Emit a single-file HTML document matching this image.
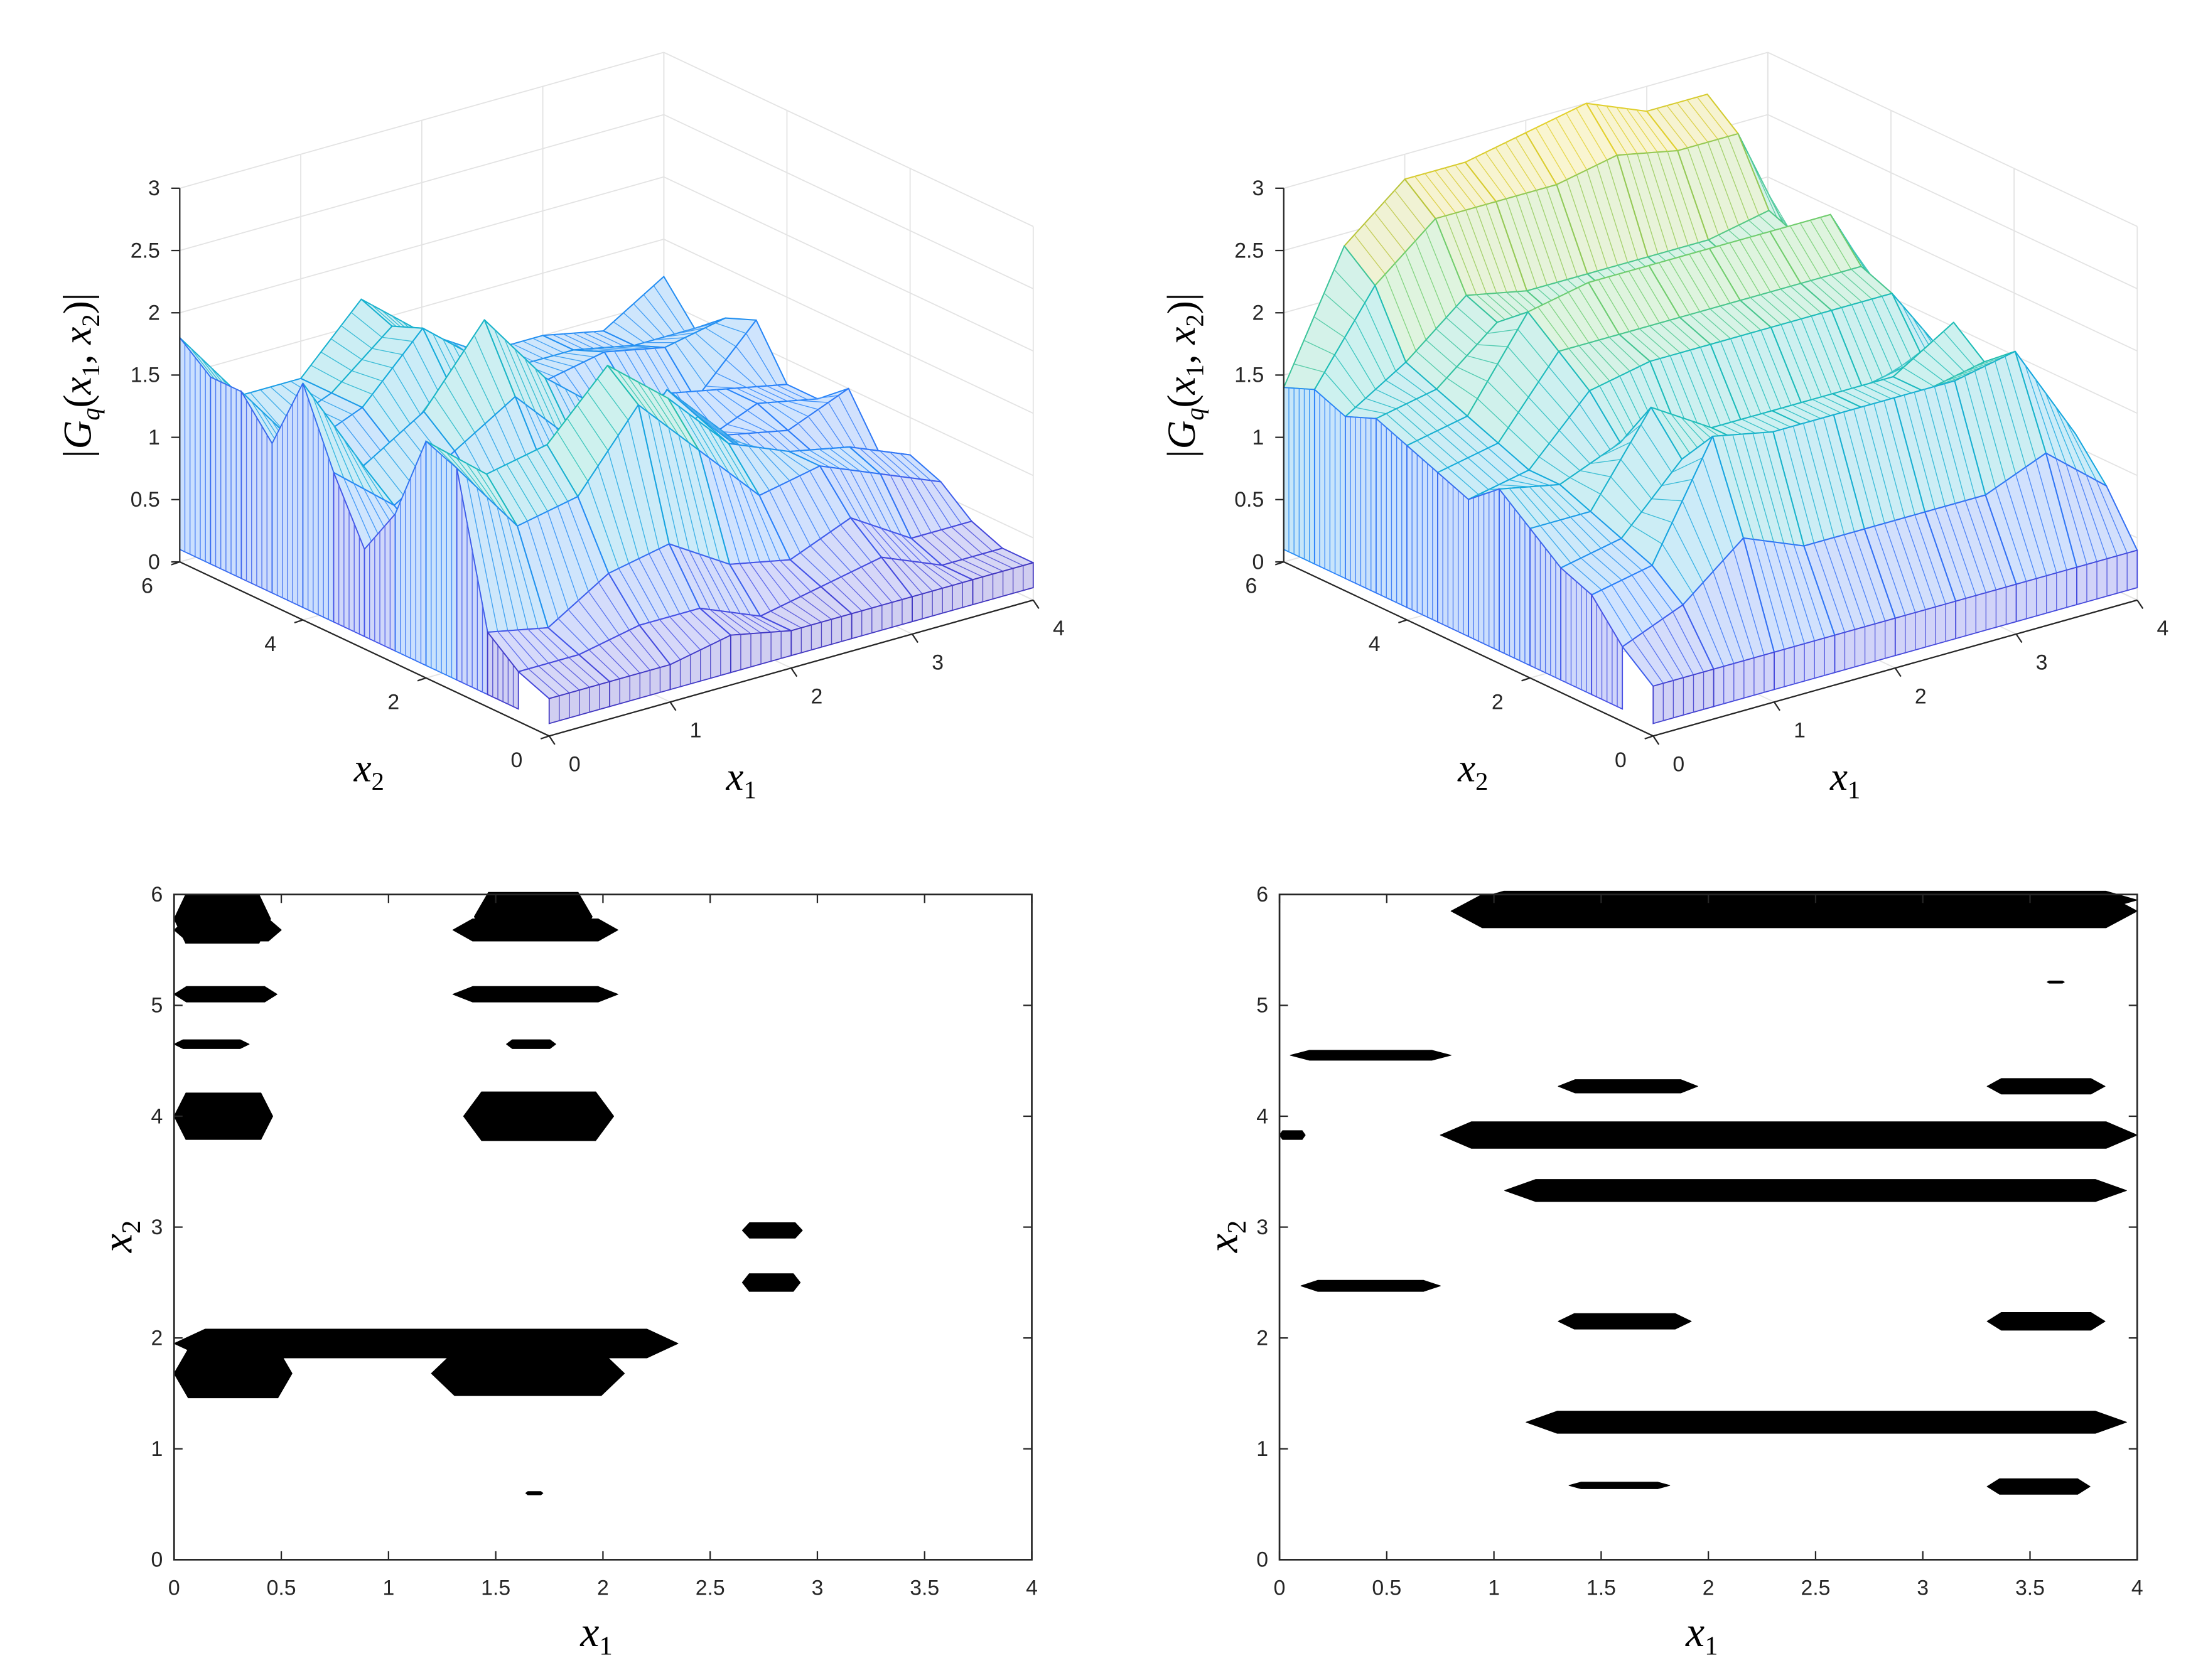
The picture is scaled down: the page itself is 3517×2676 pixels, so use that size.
<!DOCTYPE html>
<html><head><meta charset="utf-8">
<style>
html,body{margin:0;padding:0;background:#fff;}
svg{display:block;}
text{font-family:"Liberation Sans",sans-serif;fill:#262626;}
.m{font-family:"Liberation Serif",serif;font-style:italic;fill:#000;}
</style></head>
<body>
<svg id="fig" width="3517" height="2676" viewBox="0 0 1560 1187" preserveAspectRatio="none" xmlns="http://www.w3.org/2000/svg">
<rect x="0" y="0" width="1560" height="1187" fill="#fff"/>
<g id="p1"></g>
<g id="p2"></g>
<g id="p3"></g>
<g id="p4"></g>
</svg>
<script>
// ---- data ----
const x1Grid = [0,0.5,1,1.5,2,2.5,3,3.5,4];
const x2Grid = [0,0.5,1,1.5,2,2.5,3,3.5,4,4.5,5,5.5,6];
const zTicks = [0,0.5,1,1.5,2,2.5,3];
const x1Ticks3d = [0,1,2,3,4];
const x2Ticks3d = [0,2,4,6];
const surfLeft = [
 [0.3,0.3,0.3,0.4,0.3,0.3,0.3,0.3,0.3],
 [0.4,0.4,0.5,0.5,0.3,0.4,0.5,0.3,0.3],
 [0.6,0.5,0.8,0.9,0.6,0.5,0.7,0.4,0.4],
 [1.8,1.2,1.3,1.9,1.4,0.9,1.0,0.8,0.6],
 [1.9,1.5,1.6,2.1,1.7,1.2,1.0,0.9,0.7],
 [1.2,1.0,1.1,1.4,1.0,1.3,0.8,0.7,0.6],
 [0.8,0.7,0.9,1.0,0.8,1.4,0.9,0.8,1.0],
 [1.3,0.9,1.2,1.5,1.0,0.8,0.7,0.9,0.8],
 [1.9,1.1,1.4,2.0,1.4,1.0,1.0,0.9,0.8],
 [1.3,0.8,1.0,1.3,1.0,0.8,0.8,0.7,1.2],
 [1.6,1.0,1.2,1.7,1.3,1.0,1.1,1.0,1.1],
 [1.6,1.0,1.2,1.6,1.2,1.0,1.0,0.9,0.9],
 [1.8,1.2,1.2,1.7,1.3,1.0,1.0,0.9,1.2]];
const surfRight = [
 [0.4,0.4,0.4,0.4,0.4,0.4,0.4,0.4,0.4],
 [0.6,0.8,1.2,1.0,1.0,1.0,1.0,1.2,0.8],
 [0.9,1.0,1.9,1.8,1.8,1.8,1.8,1.9,1.1],
 [1.0,1.1,1.6,1.6,1.6,1.6,1.6,1.7,1.0],
 [1.2,1.2,1.9,1.6,1.6,1.6,1.6,1.9,1.0],
 [1.4,1.3,1.5,1.4,1.4,1.4,1.4,1.5,1.1],
 [1.2,1.3,1.8,1.9,1.9,1.9,1.9,1.9,1.2],
 [1.3,1.4,2.0,2.0,2.0,2.0,2.0,2.0,1.3],
 [1.4,1.5,2.2,2.3,2.3,2.3,2.3,2.3,1.4],
 [1.5,1.6,2.0,1.9,1.9,1.9,1.9,2.0,1.5],
 [1.4,1.7,2.1,2.0,2.0,2.0,2.0,2.1,1.4],
 [1.5,2.2,2.6,2.6,2.6,2.7,2.6,2.6,1.5],
 [1.4,2.4,2.8,2.8,2.9,3.0,2.8,2.8,1.5]];
// contour regions: [x1 start, x1 end, x2 center, half height]
const blobsLeft = [
 [0,0.45,5.78,0.22],[0,0.5,5.68,0.1],[1.4,1.95,5.8,0.22],[1.3,2.07,5.68,0.1],
 [0,0.48,5.1,0.07],[1.3,2.07,5.1,0.07],[0,0.35,4.65,0.04],[1.55,1.78,4.65,0.04],
 [0,0.46,4.0,0.21],[1.35,2.05,4.0,0.22],[2.65,2.93,2.97,0.07],[2.65,2.92,2.5,0.08],
 [0,2.35,1.95,0.13],[0,0.55,1.68,0.22],[1.2,2.1,1.68,0.2],[1.64,1.72,0.6,0.015]];
const blobsRight = [
 [0.8,4,5.85,0.15],[0.9,4,5.95,0.08],[3.58,3.66,5.21,0.01],[0.05,0.8,4.55,0.045],
 [1.3,1.95,4.27,0.06],[3.3,3.85,4.27,0.07],[0,0.12,3.83,0.04],[0.75,4,3.83,0.12],
 [1.05,3.95,3.33,0.1],[0.1,0.75,2.47,0.05],[1.3,1.92,2.15,0.07],[3.3,3.85,2.15,0.08],
 [1.15,3.95,1.24,0.1],[1.35,1.82,0.67,0.03],[3.3,3.78,0.66,0.07]];
const x1Ticks2d = [0,0.5,1,1.5,2,2.5,3,3.5,4];
const x2Ticks2d = [0,1,2,3,4,5,6];

const NS="http://www.w3.org/2000/svg";
function mk(parent,tag,attrs,name,txt){
  const e=document.createElementNS(NS,tag);
  for(const k in attrs) e.setAttribute(k,attrs[k]);
  
  
  if(txt!==undefined) e.textContent=txt;
  parent.appendChild(e); return e;
}
const parula=[[62,38,168],[70,80,230],[40,130,250],[20,170,220],[30,190,180],[110,205,110],[200,195,50],[250,220,40]];
function col(z,zmax,mixw){
  let t=Math.max(0,Math.min(1,z/zmax))*(parula.length-1);
  const i=Math.min(parula.length-2,Math.floor(t)),f=t-i;
  const c=parula[i].map((v,k)=>v+(parula[i+1][k]-v)*f).map(v=>Math.round(v+(255-v)*mixw));
  return `rgb(${c[0]},${c[1]},${c[2]})`;
}
function draw3d(g,ox,data){
  const P=(a,b,z)=>[ox+388+85.5*a-43.5*b, 520-24*a-20.5*b-88*z];
  const line=(p,q,st,w,name)=>mk(g,'line',{x1:p[0],y1:p[1],x2:q[0],y2:q[1],stroke:st,'stroke-width':w},name);
  for(const a of x1Ticks3d){ line(P(a,6,0),P(a,6,3),'#e3e3e3',0.8,'grid-line'); line(P(a,0,0),P(a,6,0),'#e3e3e3',0.8,'grid-line'); }
  for(const b of x2Ticks3d){ line(P(4,b,0),P(4,b,3),'#e3e3e3',0.8,'grid-line'); line(P(0,b,0),P(4,b,0),'#e3e3e3',0.8,'grid-line'); }
  for(const z of zTicks){ line(P(0,6,z),P(4,6,z),'#e3e3e3',0.8,'grid-line'); line(P(4,6,z),P(4,0,z),'#e3e3e3',0.8,'grid-line'); }
  const quads=[];
  for(let j=0;j<x2Grid.length-1;j++) for(let i=0;i<x1Grid.length-1;i++) quads.push([i,j]);
  quads.sort((p,q)=>(q[0]/8+q[1]/12)-(p[0]/8+p[1]/12));
  for(const [i,j] of quads){
    const pts=[[i,j],[i+1,j],[i+1,j+1],[i,j+1]].map(([a,b])=>P(x1Grid[a],x2Grid[b],data[b][a]));
    const zavg=(data[j][i]+data[j][i+1]+data[j+1][i]+data[j+1][i+1])/4;
    mk(g,'polygon',{points:pts.map(p=>p.join(',')).join(' '),fill:col(zavg,3,0.78),stroke:col(zavg,3,0),'stroke-width':0.9,'stroke-linejoin':'round'},'surface-patch');
    // hatch lines for mesh density (within quad)
    for(let s=1;s<6;s++){const f=s/6;
      const a=[pts[0][0]+(pts[1][0]-pts[0][0])*f,pts[0][1]+(pts[1][1]-pts[0][1])*f];
      const b=[pts[3][0]+(pts[2][0]-pts[3][0])*f,pts[3][1]+(pts[2][1]-pts[3][1])*f];
      line(a,b,col(zavg,3,0.15),0.6,'mesh-line');}
    if(j===0 || i===0){
      const a0=[i,j], a1=j===0?[i+1,j]:[i,j+1];
      const t0=P(x1Grid[a0[0]],x2Grid[a0[1]],data[a0[1]][a0[0]]),t1=P(x1Grid[a1[0]],x2Grid[a1[1]],data[a1[1]][a1[0]]);
      const b0=P(x1Grid[a0[0]],x2Grid[a0[1]],0.1),b1=P(x1Grid[a1[0]],x2Grid[a1[1]],0.1);
      mk(g,'polygon',{points:[t0,t1,b1,b0].map(p=>p.join(',')).join(' '),fill:col(zavg*0.6,3,0.75),stroke:col(zavg*0.5,3,0),'stroke-width':0.8},'surface-skirt');
      for(let s=1;s<6;s++){const f=s/6;
        line([t0[0]+(t1[0]-t0[0])*f,t0[1]+(t1[1]-t0[1])*f],[b0[0]+(b1[0]-b0[0])*f,b0[1]+(b1[1]-b0[1])*f],col(zavg*0.5,3,0.1),0.6,'mesh-line');}
    }
  }
  line(P(0,6,0),P(0,6,3),'#262626',1,'z-axis');
  line(P(0,0,0),P(0,6,0),'#262626',1,'x2-axis');
  line(P(0,0,0),P(4,0,0),'#262626',1,'x1-axis');
  for(const z of zTicks){const p=P(0,6,z); line(p,[p[0]-6,p[1]],'#262626',1,'z-tick');
    mk(g,'text',{x:p[0]-14,y:p[1]+5,'font-size':15,'text-anchor':'end'},'z-tick-label',String(z));}
  for(const a of x1Ticks3d){const p=P(a,0,0); line(p,[p[0]+4,p[1]+6],'#262626',1,'x1-tick');
    mk(g,'text',{x:p[0]+18,y:p[1]+25,'font-size':15,'text-anchor':'middle'},'x1-tick-label',String(a));}
  for(const b of x2Ticks3d){const p=P(0,b,0); line(p,[p[0]-6,p[1]+2],'#262626',1,'x2-tick');
    mk(g,'text',{x:p[0]-23,y:p[1]+22,'font-size':15,'text-anchor':'middle'},'x2-tick-label',String(b));}
  mk(g,'text',{x:ox+250,y:552,'font-size':28,class:'m'},'x2-axis-title','').innerHTML='x<tspan font-size="18" dy="6" font-style="normal">2</tspan>';
  mk(g,'text',{x:ox+513,y:558,'font-size':28,class:'m'},'x1-axis-title','').innerHTML='x<tspan font-size="18" dy="6" font-style="normal">1</tspan>';
  const yt=mk(g,'text',{x:0,y:0,'font-size':28,class:'m',transform:`translate(${ox+64},${266}) rotate(-90)`,'text-anchor':'middle'},'z-axis-title','');
  yt.innerHTML='|G<tspan font-size="18" dy="6">q</tspan><tspan dy="-6" font-style="normal">(</tspan>x<tspan font-size="18" dy="6" font-style="normal">1</tspan><tspan dy="-6" font-style="normal">, </tspan>x<tspan font-size="18" dy="6" font-style="normal">2</tspan><tspan dy="-6" font-style="normal">)|</tspan>';
}
function draw2d(g,L,blobs){
  const T=632,B=1102,R=L+606;
  const X=v=>L+v/4*(R-L), Y=v=>B-v/6*(B-T);
  for(const b of blobs){
    const x0=X(b[0]),x1=X(b[1]),yc=Y(b[2]),h=b[3]/6*(B-T),w=x1-x0,k=Math.min(w*0.12,22);
    const d=`M${x0},${yc} L${x0+k},${yc-h} L${x1-k},${yc-h} L${x1},${yc} L${x1-k},${yc+h} L${x0+k},${yc+h} Z`;
    mk(g,'path',{d,fill:'#000','stroke-linejoin':'round',stroke:'#000','stroke-width':0.5},'contour-region');
  }
  mk(g,'rect',{x:L,y:T,width:R-L,height:B-T,fill:'none',stroke:'#262626','stroke-width':1.2},'plot-frame');
  for(const v of x1Ticks2d){const x=X(v);
    mk(g,'line',{x1:x,y1:B,x2:x,y2:B-6,stroke:'#262626'},'x1-tick');
    mk(g,'line',{x1:x,y1:T,x2:x,y2:T+6,stroke:'#262626'},'x1-tick');
    mk(g,'text',{x,y:B+25,'font-size':15,'text-anchor':'middle'},'x1-tick-label',String(v));}
  for(const v of x2Ticks2d){const y=Y(v);
    mk(g,'line',{x1:L,y1:y,x2:L+6,y2:y,stroke:'#262626'},'x2-tick');
    mk(g,'line',{x1:R,y1:y,x2:R-6,y2:y,stroke:'#262626'},'x2-tick');
    mk(g,'text',{x:L-8,y:y+5,'font-size':15,'text-anchor':'end'},'x2-tick-label',String(v));}
  mk(g,'text',{x:L+287,y:1163,'font-size':30,class:'m'},'x1-axis-title','').innerHTML='x<tspan font-size="19" dy="6" font-style="normal">1</tspan>';
  mk(g,'text',{x:0,y:0,'font-size':30,class:'m',transform:`translate(${L-30},${885}) rotate(-90)`},'x2-axis-title','').innerHTML='x<tspan font-size="19" dy="6" font-style="normal">2</tspan>';
}
draw3d(document.getElementById('p1'),0,surfLeft);
draw3d(document.getElementById('p2'),780,surfRight);
draw2d(document.getElementById('p3'),123,blobsLeft);
draw2d(document.getElementById('p4'),904,blobsRight);
</script>
</body></html>
